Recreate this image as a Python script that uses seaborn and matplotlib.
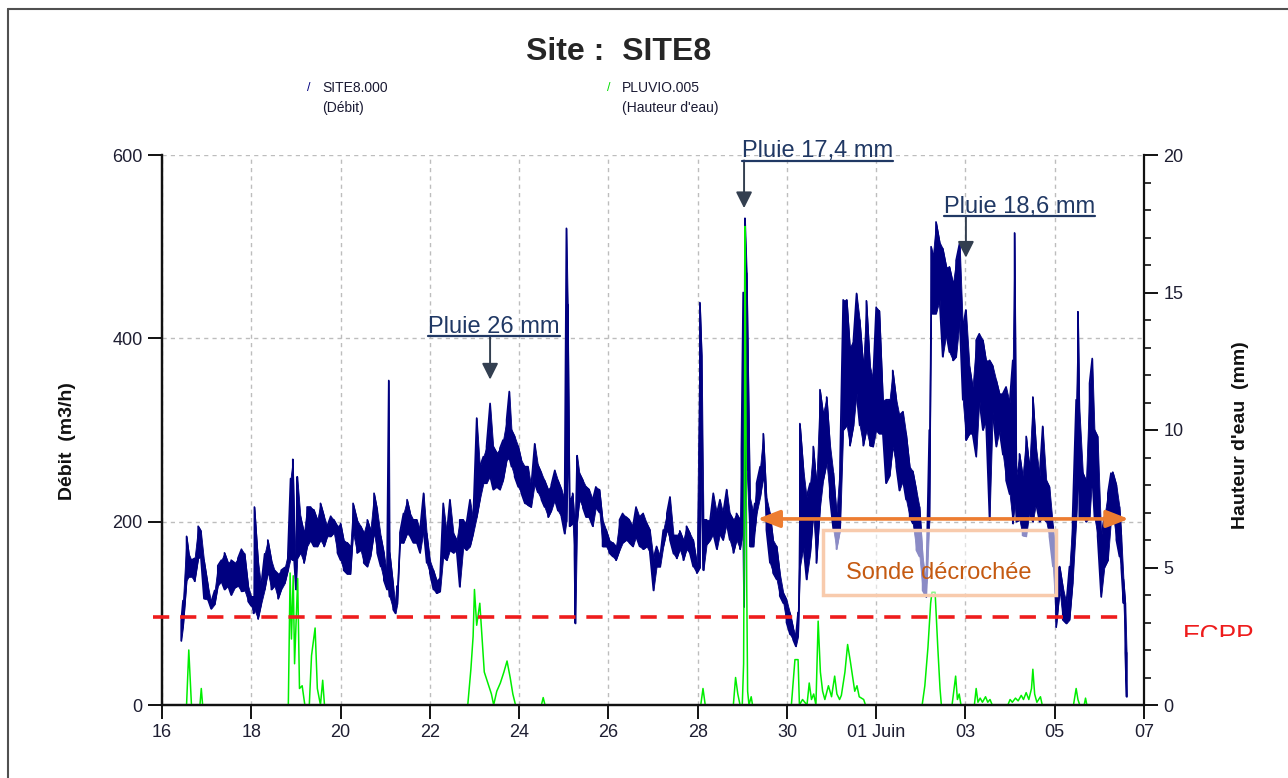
import matplotlib
matplotlib.use("Agg")
import matplotlib.pyplot as plt
from matplotlib.patches import Rectangle
from matplotlib.lines import Line2D
from matplotlib.ticker import MultipleLocator
import pandas as pd
import seaborn as sns

# --- data (x = day of May, 32 = 1 June) ---
# flow, for each reading time: low and high of the dense trace
debit_t = [
    16.43, 16.47, 16.55, 16.60, 16.66, 16.73, 16.81, 16.87, 16.94, 17.03, 17.10, 17.18, 17.25, 17.33,
    17.40, 17.48, 17.55, 17.63, 17.70, 17.78, 17.85, 17.93, 18.00, 18.05, 18.07, 18.15, 18.22, 18.30,
    18.37, 18.45, 18.52, 18.60, 18.67, 18.75, 18.82, 18.88, 18.93, 18.96, 19.00, 19.03, 19.10, 19.18,
    19.25, 19.33, 19.40, 19.48, 19.55, 19.63, 19.70, 19.78, 19.85, 19.93, 20.00, 20.07, 20.15, 20.22,
    20.28, 20.37, 20.45, 20.52, 20.60, 20.67, 20.75, 20.82, 20.90, 20.97, 21.04, 21.08, 21.10, 21.18,
    21.23, 21.27, 21.33, 21.41, 21.49, 21.56, 21.63, 21.71, 21.78, 21.86, 21.93, 22.00, 22.08, 22.15,
    22.23, 22.30, 22.38, 22.45, 22.53, 22.60, 22.67, 22.75, 22.82, 22.90, 22.97, 23.05, 23.12, 23.20,
    23.27, 23.35, 23.42, 23.50, 23.57, 23.64, 23.72, 23.78, 23.83, 23.90, 23.98, 24.05, 24.13, 24.20,
    24.27, 24.35, 24.42, 24.50, 24.57, 24.65, 24.72, 24.80, 24.87, 24.95, 25.02, 25.06, 25.09, 25.13,
    25.20, 25.24, 25.26, 25.30, 25.35, 25.43, 25.50, 25.57, 25.65, 25.72, 25.80, 25.87, 25.95, 26.02,
    26.10, 26.17, 26.25, 26.32, 26.40, 26.47, 26.55, 26.62, 26.70, 26.78, 26.86, 26.93, 27.01, 27.08,
    27.16, 27.23, 27.31, 27.38, 27.46, 27.53, 27.60, 27.68, 27.75, 27.83, 27.90, 27.98, 28.05, 28.09,
    28.13, 28.20, 28.28, 28.35, 28.43, 28.50, 28.57, 28.65, 28.72, 28.80, 28.87, 28.95, 28.98, 29.02,
    29.04, 29.06, 29.10, 29.17, 29.25, 29.28, 29.32, 29.40, 29.47, 29.54, 29.62, 29.69, 29.77, 29.84,
    29.92, 29.99, 30.07, 30.14, 30.20, 30.25, 30.29, 30.37, 30.44, 30.52, 30.59, 30.66, 30.74, 30.81,
    30.89, 30.96, 31.04, 31.11, 31.19, 31.26, 31.34, 31.41, 31.49, 31.56, 31.63, 31.71, 31.78, 31.86,
    31.93, 32.00, 32.07, 32.15, 32.22, 32.30, 32.37, 32.45, 32.52, 32.60, 32.67, 32.75, 32.82, 32.90,
    32.97, 33.04, 33.12, 33.19, 33.23, 33.27, 33.34, 33.42, 33.49, 33.57, 33.64, 33.72, 33.79, 33.87,
    33.94, 34.01, 34.09, 34.16, 34.24, 34.31, 34.39, 34.46, 34.54, 34.61, 34.69, 34.76, 34.84, 34.91,
    34.99, 35.06, 35.10, 35.14, 35.21, 35.28, 35.36, 35.43, 35.51, 35.58, 35.66, 35.73, 35.81, 35.88,
    35.96, 36.03, 36.11, 36.18, 36.26, 36.33, 36.40, 36.48, 36.52, 36.55, 36.63, 36.70, 36.78, 36.84,
    36.89, 36.96, 37.04, 37.11, 37.19, 37.26, 37.30, 37.38, 37.45, 37.49, 37.54, 37.58, 37.61,
]
debit_bas = [
    70, 85, 136, 140, 140, 135, 160, 162, 116, 115, 105, 110, 130, 135,
    126, 130, 120, 128, 130, 124, 125, 113, 108, 100, 104, 94, 110, 126,
    145, 126, 130, 116, 126, 133, 147, 160, 158, 158, 126, 160, 166, 155,
    173, 180, 173, 173, 180, 173, 184, 184, 188, 166, 158, 147, 143, 143,
    188, 166, 169, 155, 151, 162, 188, 166, 151, 136, 126, 130, 118, 104,
    100, 110, 177, 177, 187, 184, 177, 177, 166, 191, 155, 144, 126, 122,
    124, 162, 158, 169, 166, 169, 129, 173, 169, 173, 187, 205, 224, 242,
    242, 250, 235, 238, 235, 245, 267, 270, 260, 249, 238, 231, 220, 218,
    216, 242, 232, 224, 216, 205, 212, 224, 212, 205, 187, 200, 274, 195,
    198, 165, 89, 200, 224, 215, 205, 205, 195, 216, 210, 173, 173, 166,
    162, 158, 169, 177, 180, 177, 173, 184, 173, 170, 173, 166, 125, 151,
    151, 173, 191, 180, 165, 160, 170, 158, 170, 165, 151, 144, 150, 264,
    147, 175, 180, 187, 170, 187, 180, 198, 180, 166, 180, 170, 180, 200,
    107, 260, 256, 173, 173, 190, 209, 227, 250, 191, 155, 144, 137, 119,
    111, 90, 77, 71, 64, 75, 150, 173, 137, 165, 209, 155, 215, 245,
    264, 227, 191, 170, 191, 300, 305, 283, 305, 340, 305, 283, 300, 283,
    282, 300, 296, 296, 242, 250, 282, 260, 234, 245, 224, 205, 198, 169,
    162, 125, 118, 200, 427, 427, 427, 442, 380, 405, 385, 376, 380, 420,
    333, 289, 296, 296, 271, 333, 300, 310, 202, 320, 282, 300, 273, 245,
    230, 198, 220, 200, 202, 185, 184, 210, 200, 220, 200, 205, 200, 184,
    151, 85, 125, 93, 89, 93, 133, 200, 250, 205, 205, 200, 205, 250,
    205, 184, 118, 150, 158, 202, 210, 180, 162, 150, 111, 57, 9,
]
debit_haut = [
    92, 114, 184, 165, 158, 160, 195, 190, 158, 130, 112, 125, 152, 158,
    166, 155, 158, 155, 160, 170, 165, 130, 118, 118, 216, 158, 130, 165,
    180, 158, 147, 143, 147, 150, 165, 247, 268, 202, 151, 249, 206, 188,
    216, 216, 213, 202, 220, 206, 195, 206, 202, 195, 198, 180, 177, 173,
    220, 202, 195, 188, 202, 191, 231, 213, 184, 166, 143, 354, 166, 130,
    108, 130, 188, 209, 224, 209, 202, 202, 191, 231, 187, 158, 147, 136,
    140, 220, 187, 224, 187, 180, 202, 202, 198, 224, 202, 313, 260, 271,
    282, 329, 282, 275, 280, 289, 311, 342, 300, 293, 282, 267, 260, 260,
    238, 285, 262, 253, 245, 235, 240, 256, 245, 235, 224, 520, 437, 224,
    231, 200, 180, 272, 253, 245, 238, 235, 224, 238, 235, 202, 191, 180,
    177, 173, 202, 209, 205, 202, 195, 216, 205, 209, 198, 191, 160, 173,
    162, 191, 209, 227, 185, 185, 190, 180, 195, 187, 180, 155, 439, 381,
    202, 202, 202, 231, 209, 224, 209, 235, 209, 202, 209, 202, 277, 450,
    200, 531, 471, 227, 209, 220, 242, 260, 296, 227, 209, 180, 173, 144,
    122, 115, 100, 84, 75, 101, 307, 256, 227, 242, 282, 242, 344, 318,
    336, 286, 253, 209, 264, 442, 442, 390, 398, 449, 420, 370, 441, 370,
    355, 434, 430, 333, 333, 333, 365, 333, 316, 320, 296, 260, 255, 234,
    216, 162, 133, 300, 500, 490, 527, 505, 498, 478, 478, 460, 485, 504,
    412, 431, 369, 347, 398, 405, 398, 376, 376, 370, 354, 340, 340, 347,
    330, 376, 515, 250, 274, 250, 293, 260, 336, 282, 250, 304, 245, 238,
    195, 151, 151, 129, 111, 151, 205, 333, 429, 325, 253, 245, 351, 378,
    300, 293, 184, 205, 231, 253, 254, 240, 216, 185, 137, 111, 57,
]

# rainfall (mm)
pluie_t = [
    16.55, 16.60, 16.63, 16.66, 16.85, 16.88, 16.91,
    18.83, 18.87, 18.90, 18.94, 18.97, 19.04, 19.08, 19.14, 19.20, 19.30, 19.35, 19.43, 19.48, 19.55, 19.60, 19.64,
    22.85, 22.92, 22.97, 23.00, 23.05, 23.12, 23.18, 23.22, 23.30, 23.38, 23.43, 23.50, 23.58, 23.66, 23.73, 23.80,
    23.86, 23.92, 24.50, 24.54, 24.58,
    28.07, 28.12, 28.17, 28.80, 28.85, 28.90, 28.95, 29.00, 29.03, 29.05, 29.06, 29.08, 29.10, 29.12, 29.15, 29.20, 29.23,
    30.10, 30.18, 30.25, 30.28, 30.35, 30.45, 30.50, 30.55, 30.60, 30.65, 30.70, 30.75, 30.80, 30.85, 30.93, 31.00,
    31.07, 31.12, 31.18, 31.22, 31.30, 31.36, 31.42, 31.47, 31.52, 31.57, 31.62, 31.72, 31.76,
    33.03, 33.09, 33.16, 33.22, 33.25, 33.32, 33.38, 33.43, 33.46,
    33.70, 33.78, 33.82, 33.86, 33.90, 34.20, 34.24, 34.28, 34.33, 34.38, 34.45, 34.50, 34.55, 34.60,
    34.95, 35.00, 35.05, 35.12, 35.18, 35.25, 35.30, 35.36, 35.42, 35.48, 35.51, 35.55, 35.60, 35.68, 35.72,
    36.42, 36.48, 36.52, 36.56, 36.66, 36.69, 36.72,
]
pluie_mm = [
    0, 2.0, 1.0, 0, 0, 0.6, 0,
    0, 4.8, 2.4, 4.7, 1.5, 4.6, 0.6, 0.7, 0, 0, 1.8, 2.8, 0.6, 0, 0.9, 0,
    0, 1.3, 2.5, 4.2, 2.9, 3.7, 2.2, 1.2, 0.8, 0.4, 0, 0.5, 0.8, 1.2, 1.6, 1.0,
    0.4, 0, 0, 0.27, 0,
    0, 0.6, 0, 0, 1.0, 0.4, 0, 0, 1.5, 9.3, 17.4, 11.7, 4.3, 0.5, 0, 0.3, 0,
    0, 1.65, 1.65, 0, 0.2, 0, 0.8, 0.2, 0.4, 0, 3.05, 1.2, 0.5, 0.2, 0.7, 0.3,
    1.05, 0.4, 0.2, 0.35, 1.2, 2.2, 1.6, 1.05, 0.5, 0.7, 0.3, 0.2, 0,
    0, 0.7, 2.1, 3.7, 4.1, 4.1, 2.1, 0.6, 0,
    0, 1.05, 0.2, 0.4, 0, 0, 0.6, 0.1, 0.25, 0.1, 0.3, 0.1, 0.2, 0,
    0, 0.2, 0.1, 0.25, 0.15, 0.35, 0.2, 0.45, 0.2, 0.6, 1.3, 0.4, 0.1, 0.3, 0,
    0, 0.6, 0.2, 0, 0, 0.25, 0,
]

seuil_t = [15.8, 37.55]
seuil_debit = 96

x_ticks = [16, 18, 20, 22, 24, 26, 28, 30, 32, 34, 36, 38]
x_labels = ["16", "18", "20", "22", "24", "26", "28", "30", "01 Juin", "03", "05", "07"]

pluie_textes = ["Pluie 26 mm", "Pluie 17,4 mm", "Pluie 18,6 mm"]
pluie_texte_t = [21.96, 28.99, 33.51]
pluie_fleche_t = [23.35, 29.04, 34.01]
pluie_souligne = [402, 594, 533]
pluie_pointe = [355, 542, 488]

sonde_t = [29.34, 37.66]
sonde_v = [203, 203]
boite_t = [30.80, 36.02]
boite_v = [120, 191]

# --- dense trace: band between low/high plus strokes low <-> high ---
zx, zy = [], []
for i, (t, lo, hi) in enumerate(zip(debit_t, debit_bas, debit_haut)):
    zx += [t, t]
    zy += [lo, hi] if i % 2 == 0 else [hi, lo]
df_debit = pd.DataFrame({"jour": zx, "debit": zy})
df_pluie = pd.DataFrame({"jour": pluie_t, "pluie": pluie_mm})

sns.set_style("white")
plt.rcParams["font.family"] = ["Liberation Sans", "DejaVu Sans"]

fig = plt.figure(figsize=(12.88, 7.78), dpi=100)
ax = fig.add_axes([162 / 1288, 1 - 705 / 778, 982 / 1288, 550 / 778])
ax2 = ax.twinx()

navy = "#000080"
texte_bleu = "#203864"
tick_col = "#1e1e32"

ax.fill_between(debit_t, debit_bas, debit_haut, color=navy, lw=0.6)
sns.lineplot(data=df_debit, x="jour", y="debit", sort=False, estimator=None,
             color=navy, lw=1.2, ax=ax)
sns.lineplot(data=df_pluie, x="jour", y="pluie", sort=False, estimator=None,
             color="#00ee00", lw=1.1, ax=ax2)

ax.set_xlim(16, 38)
ax.set_ylim(0, 600)
ax2.set_ylim(0, 20)
ax.set_xticks(x_ticks)
ax.set_xticklabels(x_labels)
ax.set_yticks([0, 200, 400, 600])
ax2.set_yticks([0, 5, 10, 15, 20])
ax2.yaxis.set_minor_locator(MultipleLocator(1))

ax.grid(True, ls=(0, (3, 3)), color="#bdbdbd", lw=1)
ax.set_axisbelow(True)
ax2.grid(False)

for a in (ax, ax2):
    a.spines["top"].set_visible(False)
    for s in ("left", "right", "bottom"):
        a.spines[s].set_color("#111111")
        a.spines[s].set_linewidth(1.6)
ax.spines["right"].set_visible(False)

ax.tick_params(axis="both", direction="out", length=10, width=1.4, labelsize=13,
               labelcolor=tick_col, color="#111111", pad=4)
ax.tick_params(axis="y", left=True)
ax.tick_params(axis="x", bottom=True)
ax2.tick_params(axis="y", which="major", direction="out", length=10, width=1.4,
                labelsize=13, labelcolor=tick_col, right=True, color="#111111", pad=4)
ax2.tick_params(axis="y", which="minor", direction="out", length=5, width=1.2,
                right=True, color="#111111")

ax.set_xlabel("")
ax.set_ylabel("Débit  (m3/h)", fontsize=14, fontweight="bold", color="#111111")
ax.yaxis.set_label_coords(-0.088, 0.48)
ax2.set_ylabel("Hauteur d'eau  (mm)", fontsize=14, fontweight="bold", color="#111111")
ax2.yaxis.set_label_coords(1.090, 0.49)

# threshold line
ax2.plot(seuil_t, [seuil_debit, seuil_debit], transform=ax.transData, color="#ee1c1c",
         lw=2.6, ls=(0, (4.5, 3)), clip_on=False, zorder=4)

# "sonde décrochée" box and arrow
ax2.add_patch(Rectangle((boite_t[0], boite_v[0]), boite_t[1] - boite_t[0], boite_v[1] - boite_v[0],
                        transform=ax.transData, facecolor=(1, 1, 1, 0.55),
                        edgecolor="#f8cbad", lw=2.5, zorder=5))
ax2.text((boite_t[0] + boite_t[1]) / 2, 144, "Sonde décrochée", transform=ax.transData,
         ha="center", va="center", fontsize=17, color="#c55a11", zorder=6)
ax2.annotate("", xy=(sonde_t[1], sonde_v[1]), xytext=(sonde_t[0], sonde_v[0]),
             xycoords=ax.transData, textcoords=ax.transData,
             arrowprops=dict(arrowstyle="<|-|>,head_length=0.9,head_width=0.35",
                             color="#ed7d31", lw=2.6, mutation_scale=15,
                             shrinkA=0, shrinkB=0), zorder=6)

# rain annotations
txts = []
for lab, tx, fx, u, p in zip(pluie_textes, pluie_texte_t, pluie_fleche_t, pluie_souligne, pluie_pointe):
    t = ax2.text(tx, u + 3.5, lab, transform=ax.transData, ha="left", va="baseline",
                 fontsize=17, color=texte_bleu, zorder=7)
    txts.append(t)
    ax2.annotate("", xy=(fx, p), xytext=(fx, u), xycoords=ax.transData, textcoords=ax.transData,
                 arrowprops=dict(arrowstyle="-|>,head_length=0.7,head_width=0.35",
                                 color="#333f50", lw=1.4, mutation_scale=14,
                                 shrinkA=0, shrinkB=0), zorder=7)

# titles / legend
fig.text(0.48, 0.933, "Site :  SITE8", ha="center", va="center", fontsize=23, fontweight="bold")
fig.text(0.238, 0.887, "/", color=navy, fontsize=9, ha="left", va="center")
fig.text(0.25, 0.887, "SITE8.000", color="#1a1a33", fontsize=10, ha="left", va="center")
fig.text(0.25, 0.861, "(Débit)", color="#1a1a33", fontsize=10, ha="left", va="center")
fig.text(0.471, 0.887, "/", color="#00dd00", fontsize=9, ha="left", va="center")
fig.text(0.483, 0.887, "PLUVIO.005", color="#1a1a33", fontsize=10, ha="left", va="center")
fig.text(0.483, 0.861, "(Hauteur d'eau)", color="#1a1a33", fontsize=10, ha="left", va="center")

fig.text(1183 / 1288, 1 - 624 / 778, "ECPP", color="#ee1c1c", fontsize=19, ha="left", va="top")
fig.add_artist(Rectangle((1178 / 1288, 0), 0.08, 1 - 637 / 778, transform=fig.transFigure,
                         facecolor="white", edgecolor="none", zorder=10))

# outer frame
fig.add_artist(Line2D([8 / 1288, 1], [1 - 9 / 778, 1 - 9 / 778], transform=fig.transFigure,
                      color="#505050", lw=1.5))
fig.add_artist(Line2D([8 / 1288, 8 / 1288], [0, 1 - 9 / 778], transform=fig.transFigure,
                      color="#505050", lw=1.5))

# underline rain texts
fig.canvas.draw()
r = fig.canvas.get_renderer()
inv = ax.transData.inverted()
for t, u in zip(txts, pluie_souligne):
    bb = t.get_window_extent(r)
    x0 = inv.transform((bb.x0, 0))[0]
    x1 = inv.transform((bb.x1, 0))[0]
    ax2.plot([x0, x1], [u, u], transform=ax.transData, color=texte_bleu, lw=1.6,
             clip_on=False, zorder=7)

ax.set_xlim(16, 38)
ax.set_ylim(0, 600)
ax2.set_ylim(0, 20)

fig.savefig("out.png", dpi=100)
